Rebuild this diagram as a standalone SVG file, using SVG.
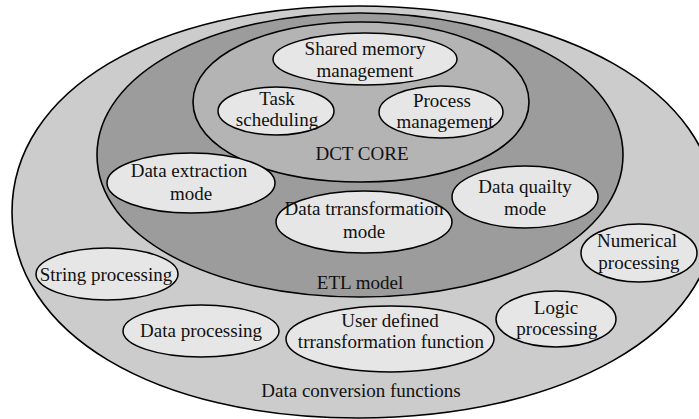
<svg xmlns="http://www.w3.org/2000/svg" width="699" height="419" viewBox="0 0 699 419">
<style>
.t{font-family:"Liberation Serif","Times New Roman",serif;font-size:19px;fill:#111;text-anchor:middle}
.sh{stroke:#000;stroke-width:1.6}
.n{fill:#e6e6e6;stroke:#000;stroke-width:1.5}
</style>
<rect width="699" height="419" fill="#fff"/>
<g id="data-conversion-functions">
<path class="sh" fill="#cccccc" d="M 716 212 C 716 333, 562 418, 358 418 C 154 418, 12 333, 12 212 C 12 91, 154 6, 358 6 C 562 6, 716 91, 716 212 Z"/>
<text class="t" x="361" y="397">Data conversion functions</text>
</g>
<g id="etl-model">
<path class="sh" fill="#9c9c9c" d="M 623 155 C 623 236, 510 297, 360 297 C 210 297, 97 236, 97 155 C 97 74, 210 13, 360 13 C 510 13, 623 74, 623 155 Z"/>
<text class="t" x="360" y="289">ETL model</text>
</g>
<g id="dct-core">
<path class="sh" fill="#b4b4b4" d="M 529 102 C 529 148, 457 182, 361 182 C 265 182, 193 148, 193 102 C 193 56, 265 22, 361 22 C 457 22, 529 56, 529 102 Z"/>
<text class="t" x="362" y="160">DCT CORE</text>
</g>
<g id="shared-memory-management">
<ellipse class="n" cx="365" cy="59" rx="92" ry="26"/>
<text class="t" x="365" y="55">Shared memory</text>
<text class="t" x="365" y="77">management</text>
</g>
<g id="task-scheduling">
<ellipse class="n" cx="276" cy="111" rx="58" ry="24"/>
<text class="t" x="277" y="105">Task</text>
<text class="t" x="277" y="126">scheduling</text>
</g>
<g id="process-management">
<ellipse class="n" cx="441" cy="112" rx="62" ry="26"/>
<text class="t" x="442" y="107">Process</text>
<text class="t" x="445" y="128">management</text>
</g>
<g id="data-extraction-mode">
<ellipse class="n" cx="191" cy="183" rx="84" ry="30"/>
<text class="t" x="189" y="177">Data extraction</text>
<text class="t" x="191" y="200">mode</text>
</g>
<g id="data-trransformation-mode">
<ellipse class="n" cx="364" cy="222" rx="88" ry="31"/>
<text class="t" x="364" y="215">Data trransformation</text>
<text class="t" x="364" y="238">mode</text>
</g>
<g id="data-quailty-mode">
<ellipse class="n" cx="525" cy="197" rx="73" ry="31"/>
<text class="t" x="525" y="193">Data quailty</text>
<text class="t" x="525" y="215">mode</text>
</g>
<g id="numerical-processing">
<ellipse class="n" cx="639" cy="253" rx="58" ry="29"/>
<text class="t" x="637" y="247">Numerical</text>
<text class="t" x="639" y="269">processing</text>
</g>
<g id="string-processing">
<ellipse class="n" cx="107" cy="274" rx="71" ry="26"/>
<text class="t" x="106" y="281">String processing</text>
</g>
<g id="data-processing">
<ellipse class="n" cx="201" cy="331" rx="78" ry="26"/>
<text class="t" x="201" y="337">Data processing</text>
</g>
<g id="user-defined-trransformation-function">
<ellipse class="n" cx="390" cy="339" rx="104" ry="33"/>
<text class="t" x="390" y="327">User defined</text>
<text class="t" x="391" y="348">trransformation function</text>
</g>
<g id="logic-processing">
<ellipse class="n" cx="556" cy="319" rx="60" ry="28"/>
<text class="t" x="556" y="314">Logic</text>
<text class="t" x="557" y="335">processing</text>
</g>
<g id="connectors"/>
</svg>
